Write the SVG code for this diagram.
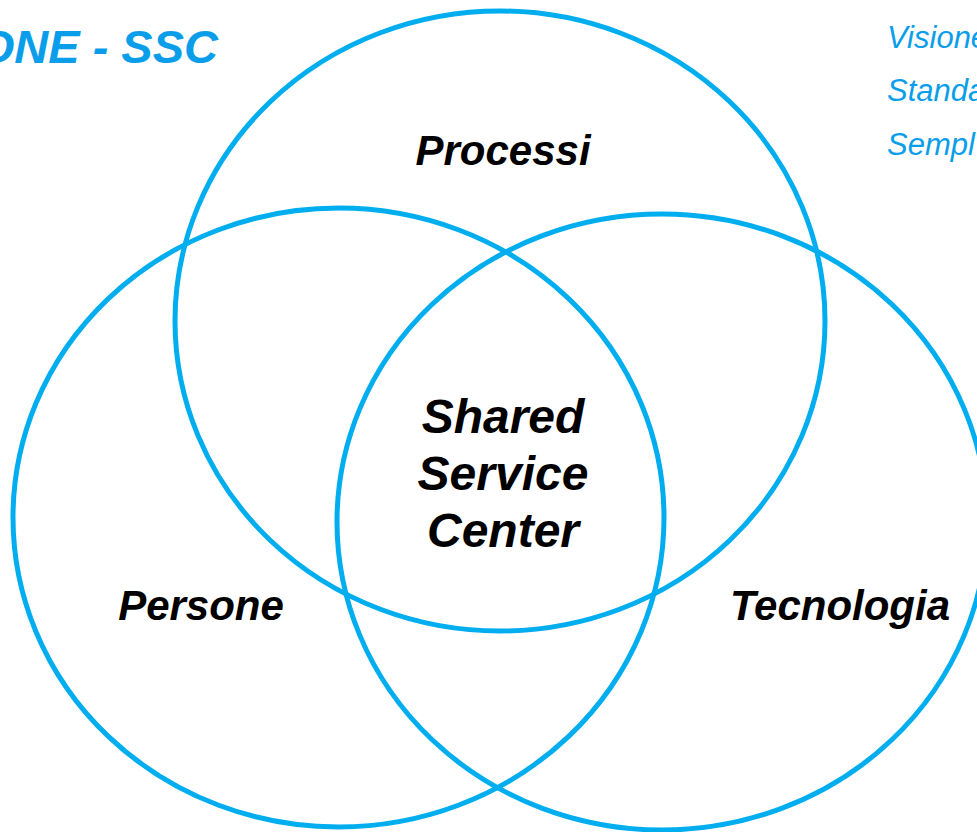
<svg xmlns="http://www.w3.org/2000/svg" width="977" height="832" viewBox="0 0 977 832">
<style>
.ring{fill:none;stroke:#00AEEF;stroke-width:5}
.lbl{font-family:"Liberation Sans",Arial,sans-serif;font-weight:bold;font-style:italic;fill:#000;text-anchor:middle}
.side{font-family:"Liberation Sans",Arial,sans-serif;font-style:italic;fill:#0A9EEA;font-size:31px}
.title{font-family:"Liberation Sans",Arial,sans-serif;font-weight:bold;font-style:italic;fill:#0A9EEA;font-size:47px}
</style>
<rect width="977" height="832" fill="#fff"/>
<text class="title" x="218" y="63" text-anchor="end">ONE - SSC</text>
<g id="side-notes">
<text class="side" x="887" y="48">Visione</text>
<text class="side" x="887" y="101">Standa</text>
<text class="side" x="887" y="155">Sempl</text>
</g>
<g id="connectors"></g>
<g id="processi">
<ellipse class="ring" cx="500" cy="321" rx="325" ry="310"/>
<text class="lbl" x="503" y="165" font-size="42">Processi</text>
</g>
<g id="persone">
<ellipse class="ring" cx="338.5" cy="517.5" rx="325.5" ry="309.5"/>
<text class="lbl" x="201" y="620" font-size="42">Persone</text>
</g>
<g id="tecnologia">
<ellipse class="ring" cx="662" cy="522" rx="325" ry="308"/>
<text class="lbl" x="840" y="620" font-size="42">Tecnologia</text>
</g>
<g id="ssc">
<text class="lbl" x="503" y="433" font-size="48">Shared</text>
<text class="lbl" x="503" y="490" font-size="48">Service</text>
<text class="lbl" x="503" y="547" font-size="48">Center</text>
</g>
</svg>
